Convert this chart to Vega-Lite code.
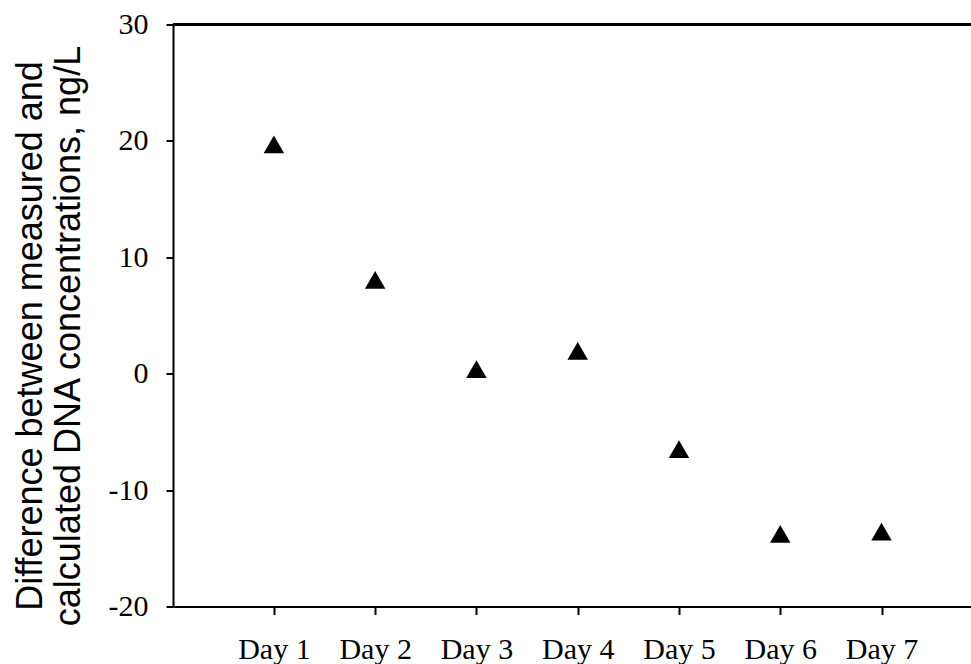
{
  "$schema": "https://vega.github.io/schema/vega-lite/v6.json",
  "autosize": {"type": "none"},
  "width": 798,
  "height": 582,
  "padding": {"left": 173, "top": 24.5, "right": 0, "bottom": 58},
  "background": "white",
  "config": {
    "view": {"stroke": null},
    "axis": {
      "grid": false,
      "domainColor": "black",
      "domainWidth": 2,
      "tickColor": "black",
      "tickWidth": 2,
      "labelColor": "black",
      "labelFont": "Liberation Serif",
      "labelFontSize": 30,
      "titleColor": "black"
    }
  },
  "data": {
    "values": [
      {"day": "Day 1", "difference": 19.7},
      {"day": "Day 2", "difference": 8.05},
      {"day": "Day 3", "difference": 0.4},
      {"day": "Day 4", "difference": 1.97},
      {"day": "Day 5", "difference": -6.47},
      {"day": "Day 6", "difference": -13.77},
      {"day": "Day 7", "difference": -13.57}
    ]
  },
  "layer": [
    {
      "mark": {"type": "rule", "color": "black", "strokeWidth": 2},
      "encoding": {"y": {"datum": 30, "type": "quantitative"}}
    },
    {
      "mark": {"type": "point", "shape": "triangle-up", "filled": true, "color": "black", "size": 420, "opacity": 1},
      "encoding": {
        "x": {
          "field": "day",
          "type": "nominal",
          "sort": null,
          "scale": {"type": "point", "padding": 0.94, "align": 0.53},
          "axis": {
            "title": null,
            "labelAngle": 0,
            "tickSize": 8,
            "labelPadding": 20,
            "labelBaseline": "top",
            "domain": true
          }
        },
        "y": {
          "field": "difference",
          "type": "quantitative",
          "scale": {"domain": [-20, 30], "nice": false, "zero": false},
          "axis": {
            "values": [-20, -10, 0, 10, 20, 30],
            "labelExpr": "toString(datum.value)",
            "tickSize": 7,
            "labelPadding": 18,
            "title": ["Difference between measured and", "calculated DNA concentrations, ng/L"],
            "titleFont": "Liberation Sans",
            "titleFontSize": 36,
            "titleFontWeight": "normal",
            "titleLineHeight": 38,
            "titleAngle": -90,
            "titleBaseline": "top",
            "titleAlign": "center",
            "titleX": -160,
            "titleY": 311
          }
        }
      }
    }
  ]
}
